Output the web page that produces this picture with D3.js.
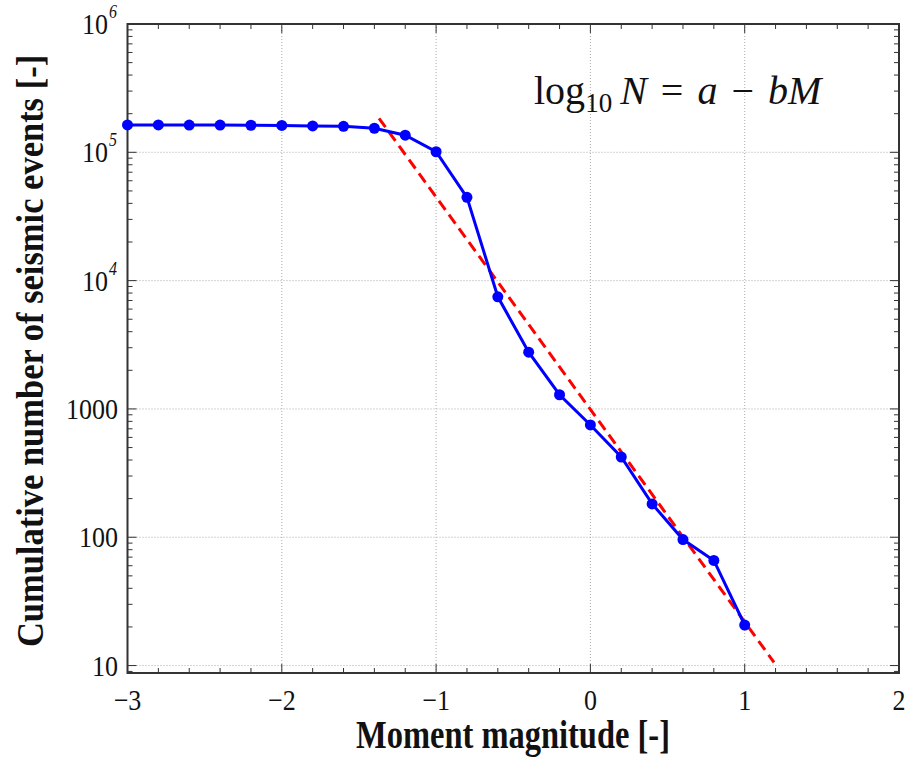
<!DOCTYPE html>
<html>
<head>
<meta charset="utf-8">
<script src="https://cdn.jsdelivr.net/npm/d3@7"></script>
<style>
  body { margin: 0; background: #fff; }
  svg { display: block; }
</style>
</head>
<body>
<script>
// magnitude bins and cumulative counts
const magnitudes = [-3, -2.8, -2.6, -2.4, -2.2, -2, -1.8, -1.6, -1.4, -1.2, -1, -0.8, -0.6, -0.4, -0.2, 0, 0.2, 0.4, 0.6, 0.8, 1];
const counts = [163500, 163500, 163000, 163000, 162500, 162000, 160500, 159500, 154000, 136000, 101000, 44600, 7480, 2770, 1290, 750, 422, 182, 96, 66, 20.7];

// Gutenberg-Richter fit line end points
const fitM = [-1.37, 1.19];
const fitN = [184000, 10.6];

const xTicks = [-3, -2, -1, 0, 1, 2];
const yTicks = [10, 100, 1000, 1e4, 1e5, 1e6];
const yTickLabels = [["10", ""], ["100", ""], ["1000", ""], ["10", "4"], ["10", "5"], ["10", "6"]];

const width = 906, height = 765;
const pLeft = 127.5, pRight = 899, pTop = 24, pBottom = 673;

const svg = d3.select("body").append("svg")
    .attr("width", width)
    .attr("height", height);

const x = d3.scaleLinear().domain([-3, 2]).range([pLeft, pRight]);
const y = d3.scaleLog().domain([8.75, 1e6]).range([pBottom, pTop]);

const serif = "'Liberation Serif', 'Times New Roman', serif";

// grid
svg.append("g").selectAll("line")
    .data(xTicks.slice(1, -1))
    .enter().append("line")
    .attr("x1", d => x(d)).attr("x2", d => x(d))
    .attr("y1", pTop).attr("y2", pBottom)
    .attr("stroke", "#aaa").attr("stroke-width", 1)
    .attr("stroke-dasharray", "1,2");

svg.append("g").selectAll("line")
    .data(yTicks.slice(0, -1))
    .enter().append("line")
    .attr("x1", pLeft).attr("x2", pRight)
    .attr("y1", d => y(d)).attr("y2", d => y(d))
    .attr("stroke", "#aaa").attr("stroke-width", 1)
    .attr("stroke-dasharray", "1,2");

// minor ticks
const xMinor = d3.range(-3, 2.0001, 0.2).filter(v => Math.abs(v - Math.round(v)) > 1e-6);
const yMinor = [];
for (let e = 0; e < 6; e++) {
    for (let k = 2; k <= 9; k++) {
        const v = k * Math.pow(10, e);
        if (v >= 8.75 && v <= 1e6) yMinor.push(v);
    }
}

const ticks = svg.append("g").attr("stroke", "#333").attr("stroke-width", 1);
xMinor.forEach(v => {
    ticks.append("line").attr("x1", x(v)).attr("x2", x(v)).attr("y1", pBottom).attr("y2", pBottom - 5);
    ticks.append("line").attr("x1", x(v)).attr("x2", x(v)).attr("y1", pTop).attr("y2", pTop + 5);
});
xTicks.forEach(v => {
    ticks.append("line").attr("x1", x(v)).attr("x2", x(v)).attr("y1", pBottom).attr("y2", pBottom - 9);
    ticks.append("line").attr("x1", x(v)).attr("x2", x(v)).attr("y1", pTop).attr("y2", pTop + 9);
});
yMinor.forEach(v => {
    ticks.append("line").attr("x1", pLeft).attr("x2", pLeft + 5).attr("y1", y(v)).attr("y2", y(v));
    ticks.append("line").attr("x1", pRight).attr("x2", pRight - 5).attr("y1", y(v)).attr("y2", y(v));
});
yTicks.forEach(v => {
    ticks.append("line").attr("x1", pLeft).attr("x2", pLeft + 9).attr("y1", y(v)).attr("y2", y(v));
    ticks.append("line").attr("x1", pRight).attr("x2", pRight - 9).attr("y1", y(v)).attr("y2", y(v));
});

// frame
svg.append("rect")
    .attr("x", pLeft).attr("y", pTop)
    .attr("width", pRight - pLeft).attr("height", pBottom - pTop)
    .attr("fill", "none").attr("stroke", "#333").attr("stroke-width", 2);

// x tick labels
svg.append("g").selectAll("text")
    .data(xTicks)
    .enter().append("text")
    .attr("transform", d => "translate(" + x(d) + ",710) scale(1,1.12)")
    .attr("text-anchor", "middle")
    .attr("font-family", serif).attr("font-size", 26)
    .attr("fill", "#111")
    .text(d => d < 0 ? "\u2212" + Math.abs(d) : d);

// y tick labels
yTicks.forEach((v, i) => {
    const lab = yTickLabels[i];
    const hasExp = lab[1] !== "";
    svg.append("text")
        .attr("transform", "translate(" + (hasExp ? 108 : 118) + "," + (y(v) + 10) + ") scale(1,1.12)")
        .attr("text-anchor", "end")
        .attr("font-family", serif).attr("font-size", 26)
        .attr("fill", "#111")
        .text(lab[0]);
    if (hasExp) {
        svg.append("text")
            .attr("transform", "translate(109," + (y(v) - 6) + ") scale(1,1.12)")
            .attr("font-family", serif).attr("font-size", 16)
            .attr("font-style", "italic")
            .attr("fill", "#111")
            .text(lab[1]);
    }
});

// fit line
const fitData = fitM.map((m, i) => ({ m: m, n: fitN[i] }));
svg.append("path")
    .datum(fitData)
    .attr("d", d3.line().x(d => x(d.m)).y(d => y(d.n)))
    .attr("fill", "none")
    .attr("stroke", "#ff0000")
    .attr("stroke-width", 3)
    .attr("stroke-dasharray", "11,6");

// data line + markers
const pts = magnitudes.map((m, i) => ({ m: m, n: counts[i] }));
svg.append("path")
    .datum(pts)
    .attr("d", d3.line().x(d => x(d.m)).y(d => y(d.n)))
    .attr("fill", "none")
    .attr("stroke", "#0000ff")
    .attr("stroke-width", 3);

svg.append("g").selectAll("circle")
    .data(pts)
    .enter().append("circle")
    .attr("cx", d => x(d.m))
    .attr("cy", d => y(d.n))
    .attr("r", 5.5)
    .attr("fill", "#0000ff");

// equation
const eq = svg.append("text")
    .attr("x", 534).attr("y", 104)
    .attr("font-family", serif).attr("font-size", 40)
    .attr("fill", "#111");
eq.append("tspan").text("log");
eq.append("tspan").attr("dy", 8).attr("font-size", 27).text("10");
eq.append("tspan").attr("dy", -8).attr("dx", 8).attr("font-style", "italic").text("N");
eq.append("tspan").attr("dx", 14).text("=");
eq.append("tspan").attr("dx", 14).attr("font-style", "italic").text("a");
eq.append("tspan").attr("dx", 14).text("\u2212");
eq.append("tspan").attr("dx", 14).attr("font-style", "italic").text("bM");

// axis titles
svg.append("text")
    .attr("transform", "translate(513,748) scale(1,1.2)")
    .attr("text-anchor", "middle")
    .attr("font-family", serif).attr("font-size", 32.5).attr("font-weight", "bold")
    .attr("fill", "#111")
    .text("Moment magnitude [-]");

svg.append("text")
    .attr("transform", "translate(43,351) rotate(-90) scale(1,1.1)")
    .attr("text-anchor", "middle")
    .attr("font-family", serif).attr("font-size", 34.5).attr("font-weight", "bold")
    .attr("fill", "#111")
    .text("Cumulative number of seismic events [-]");
</script>
</body>
</html>
